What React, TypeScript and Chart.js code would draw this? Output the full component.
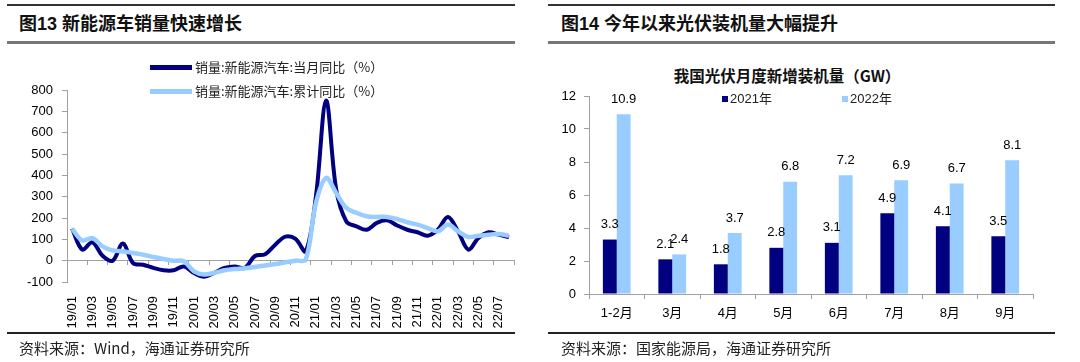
import React, { useEffect, useRef } from 'react';
import { Chart, registerables } from 'chart.js';

Chart.register(...registerables);

// ---------- Left chart data ----------
const months = [
  '19/01', '19/02', '19/03', '19/04', '19/05', '19/06', '19/07', '19/08', '19/09', '19/10', '19/11', '19/12',
  '20/01', '20/02', '20/03', '20/04', '20/05', '20/06', '20/07', '20/08', '20/09', '20/10', '20/11', '20/12',
  '21/01', '21/02', '21/03', '21/04', '21/05', '21/06', '21/07', '21/08', '21/09', '21/10', '21/11', '21/12',
  '22/01', '22/02', '22/03', '22/04', '22/05', '22/06', '22/07', '22/08',
];
const monthlyYoY = [
  150, 52, 86, 23, 0, 80, -11, -19, -34, -45, -45, -27,
  -58, -75, -57, -34, -27, -34, 22, 30, 75, 113, 102, 44,
  300, 750, 333, 184, 161, 145, 177, 189, 165, 145, 133, 117,
  145, 205, 137, 52, 106, 133, 122, 109,
];
const cumulativeYoY = [
  150, 95, 106, 67, 48, 44, 36, 28, 17, 8, 0, -3,
  -50, -65, -57, -45, -39, -36, -30, -23, -16, -8, 0, 5,
  270, 388, 317, 247, 224, 208, 205, 205, 195, 180, 169, 153,
  137, 169, 137, 111, 117, 122, 125, 117,
];
const leftSeriesNames = ['销量:新能源汽车:当月同比（%）', '销量:新能源汽车:累计同比（%）'];
const leftYTicks = { min: -100, max: 800, step: 100 };

// ---------- Right chart data ----------
const pvCategories = ['1-2月', '3月', '4月', '5月', '6月', '7月', '8月', '9月'];
const pv2021 = [3.3, 2.1, 1.8, 2.8, 3.1, 4.9, 4.1, 3.5];
const pv2022 = [10.9, 2.4, 3.7, 6.8, 7.2, 6.9, 6.7, 8.1];
const pvSeriesNames = ['2021年', '2022年'];
const rightYTicks = { min: 0, max: 12, step: 2 };

const NAVY = '#000080';
const SKY = '#99CCFF';
const AXIS = '#a0a0a0';
const FONT = '"Liberation Sans", Arial, "Noto Sans CJK SC", sans-serif';

const noPad = (s: any) => {
  s.paddingLeft = 0;
  s.paddingRight = 0;
  s.paddingTop = 0;
  s.paddingBottom = 0;
};

const barLabelPlugin = {
  id: 'barLabels',
  afterDatasetsDraw(chart: any) {
    const ctx = chart.ctx;
    ctx.save();
    ctx.font = '13px ' + FONT;
    ctx.fillStyle = '#000';
    ctx.textAlign = 'center';
    ctx.textBaseline = 'middle';
    chart.data.datasets.forEach((ds: any, di: number) => {
      const meta = chart.getDatasetMeta(di);
      meta.data.forEach((el: any, i: number) => {
        ctx.fillText(Number(ds.data[i]).toFixed(1), el.x, el.y - 15);
      });
    });
    ctx.restore();
  },
};

function LineChart() {
  const ref = useRef<HTMLCanvasElement>(null);
  useEffect(() => {
    if (!ref.current) return;
    const chart = new Chart(ref.current, {
      type: 'line',
      data: {
        labels: months,
        datasets: [
          {
            label: leftSeriesNames[0],
            data: monthlyYoY,
            borderColor: NAVY,
            borderWidth: 4,
            pointRadius: 0,
            tension: 0.35,
            xAxisID: 'x',
            order: 1,
          },
          {
            label: leftSeriesNames[1],
            data: cumulativeYoY,
            borderColor: SKY,
            borderWidth: 4.5,
            pointRadius: 0,
            tension: 0.35,
            xAxisID: 'x',
            order: 0,
          },
        ],
      },
      options: {
        animation: false,
        responsive: false,
        layout: { padding: { top: 45, right: 1, left: 0, bottom: 0 } },
        plugins: { legend: { display: false }, tooltip: { enabled: false } },
        scales: {
          x: {
            type: 'category',
            offset: true,
            grid: { display: false },
            border: { display: false },
            ticks: {
              autoSkip: false,
              minRotation: 90,
              maxRotation: 90,
              padding: 6,
              color: '#000',
              font: { family: FONT, size: 13 },
              callback: function (this: any, val: any, idx: number) {
                return idx % 2 === 0 ? this.getLabelForValue(val) : '';
              },
            },
            afterFit: (s: any) => {
              s.height = 53;
              noPad(s);
            },
          },
          x0: {
            type: 'category',
            labels: months,
            position: { y: 0 },
            offset: true,
            grid: {
              display: true,
              drawOnChartArea: false,
              drawTicks: true,
              tickLength: 4,
              offset: true,
              color: (c: any) => (c.index === undefined || c.index % 2 === 0 ? AXIS : 'rgba(0,0,0,0)'),
            },
            border: { display: true, color: AXIS },
            ticks: { display: false, autoSkip: false },
            afterFit: noPad,
          } as any,
          y: {
            min: leftYTicks.min,
            max: leftYTicks.max,
            ticks: {
              stepSize: leftYTicks.step,
              padding: 9,
              color: '#000',
              font: { family: FONT, size: 13 },
            },
            grid: { drawOnChartArea: false, tickLength: 5, color: AXIS },
            border: { color: AXIS },
            afterFit: (s: any) => {
              s.width = 60;
              noPad(s);
            },
          },
        },
      } as any,
    });
    return () => chart.destroy();
  }, []);
  return <canvas ref={ref} width={508} height={290} style={{ width: 508, height: 290, display: 'block' }} />;
}

function BarChart() {
  const ref = useRef<HTMLCanvasElement>(null);
  useEffect(() => {
    if (!ref.current) return;
    const chart = new Chart(ref.current, {
      type: 'bar',
      data: {
        labels: pvCategories,
        datasets: [
          { label: pvSeriesNames[0], data: pv2021, backgroundColor: NAVY, categoryPercentage: 0.5, barPercentage: 1 },
          { label: pvSeriesNames[1], data: pv2022, backgroundColor: SKY, categoryPercentage: 0.5, barPercentage: 1 },
        ],
      },
      options: {
        animation: false,
        responsive: false,
        layout: { padding: { top: 11, right: 22, left: 0, bottom: 0 } },
        plugins: { legend: { display: false }, tooltip: { enabled: false } },
        scales: {
          x: {
            grid: { drawOnChartArea: false, tickLength: 5, color: AXIS, offset: true },
            border: { color: AXIS },
            ticks: { padding: 7, color: '#000', font: { family: FONT, size: 13 } },
            afterFit: (s: any) => {
              s.height = 36;
              noPad(s);
            },
          },
          y: {
            min: rightYTicks.min,
            max: rightYTicks.max,
            ticks: { stepSize: rightYTicks.step, padding: 8, color: '#000', font: { family: FONT, size: 13 } },
            grid: { drawOnChartArea: false, tickLength: 5, color: AXIS },
            border: { color: AXIS },
            afterFit: (s: any) => {
              s.width = 41;
              noPad(s);
            },
          },
        },
      } as any,
      plugins: [barLabelPlugin],
    });
    return () => chart.destroy();
  }, []);
  return <canvas ref={ref} width={507} height={245} style={{ width: 507, height: 245, display: 'block' }} />;
}

const abs = (s: React.CSSProperties): React.CSSProperties => ({ position: 'absolute', ...s });

export default function App() {
  const titleStyle: React.CSSProperties = {
    fontFamily: FONT,
    fontWeight: 'bold',
    fontSize: 18,
    lineHeight: '18px',
    color: '#111',
    whiteSpace: 'nowrap',
  };
  const srcStyle: React.CSSProperties = {
    fontFamily: '"Noto Sans CJK SC", "Liberation Sans", sans-serif',
    fontSize: 15,
    lineHeight: '16px',
    color: '#222',
    whiteSpace: 'nowrap',
  };
  const legText: React.CSSProperties = {
    fontFamily: '"Noto Sans CJK SC", "Liberation Sans", sans-serif',
    fontSize: 13,
    lineHeight: '14px',
    color: '#222',
    whiteSpace: 'nowrap',
  };
  return (
    <div style={{ position: 'absolute', left: 0, top: 0, width: 1080, height: 362, background: '#fff', overflow: 'hidden' }}>
      {/* Left panel */}
      <div style={abs({ left: 7, top: 4, width: 508, height: 2, background: '#333' })} />
      <div style={abs({ left: 19, top: 15, ...titleStyle })}>图13 新能源车销量快速增长</div>
      <div style={abs({ left: 7, top: 41, width: 508, height: 2.5, background: '#777' })} />
      <div style={abs({ left: 7, top: 45 })}>
        <LineChart />
      </div>
      <div style={abs({ left: 150, top: 65, width: 42, height: 4.5, background: NAVY })} />
      <div style={abs({ left: 195, top: 60, ...legText })}>{leftSeriesNames[0]}</div>
      <div style={abs({ left: 150, top: 89, width: 42, height: 4.5, background: SKY })} />
      <div style={abs({ left: 195, top: 84, ...legText })}>{leftSeriesNames[1]}</div>
      <div style={abs({ left: 7, top: 332, width: 508, height: 1.5, background: '#222' })} />
      <div style={abs({ left: 19, top: 340, ...srcStyle })}>资料来源：Wind，海通证券研究所</div>

      {/* Right panel */}
      <div style={abs({ left: 548, top: 4, width: 507, height: 2, background: '#333' })} />
      <div style={abs({ left: 561, top: 15, ...titleStyle })}>图14 今年以来光伏装机量大幅提升</div>
      <div style={abs({ left: 548, top: 41, width: 507, height: 2.5, background: '#777' })} />
      <div
        style={abs({
          left: 587,
          top: 67,
          width: 400,
          textAlign: 'center',
          fontFamily: '"Noto Sans CJK SC", "Liberation Sans", sans-serif',
          fontWeight: 'bold',
          fontSize: 15.5,
          lineHeight: '17px',
          color: '#111',
          whiteSpace: 'nowrap',
        })}
      >
        我国光伏月度新增装机量（GW）
      </div>
      <div style={abs({ left: 548, top: 85 })}>
        <BarChart />
      </div>
      <div style={abs({ left: 722, top: 96, width: 6, height: 6, background: NAVY })} />
      <div style={abs({ left: 730, top: 92, ...legText, fontFamily: FONT })}>{pvSeriesNames[0]}</div>
      <div style={abs({ left: 842, top: 96, width: 6, height: 6, background: SKY })} />
      <div style={abs({ left: 850, top: 92, ...legText, fontFamily: FONT })}>{pvSeriesNames[1]}</div>
      <div style={abs({ left: 548, top: 332, width: 507, height: 1.5, background: '#222' })} />
      <div style={abs({ left: 561, top: 340, ...srcStyle })}>资料来源：国家能源局，海通证券研究所</div>
    </div>
  );
}
